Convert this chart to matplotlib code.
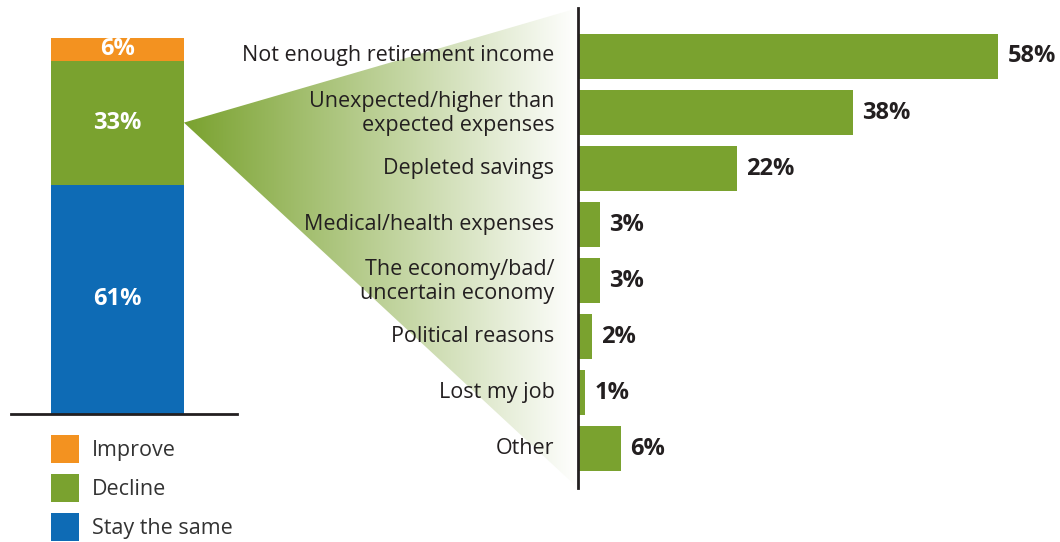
import numpy as np
import matplotlib
matplotlib.use("Agg")
import matplotlib.pyplot as plt
from matplotlib.patches import Polygon
from matplotlib.transforms import ScaledTranslation

plt.rcParams['font.family'] = ['Open Sans', 'DejaVu Sans']

# Outlook split (stacked bar, bottom to top)
outlook = ["Stay the same", "Decline", "Improve"]
outlook_vals = [61, 33, 6]
outlook_colors = ["#0E6BB5", "#7AA22F", "#F39220"]

# Reasons for decline
reasons = ["Not enough retirement income",
           "Unexpected/higher than\nexpected expenses",
           "Depleted savings",
           "Medical/health expenses",
           "The economy/bad/\nuncertain economy",
           "Political reasons",
           "Lost my job",
           "Other"]
reason_vals = [58, 38, 22, 3, 3, 2, 1, 6]

GREEN = "#7AA22F"
DARK = "#231F20"
W, H = 1060, 542
FS = 15.5
FS_B = 17
FS_PX = FS * 100 / 72

fig = plt.figure(figsize=(W / 100, H / 100), dpi=100)

def px_axes(x0, y0, x1, y1, **kw):
    # axes from pixel box (top-left origin)
    return fig.add_axes([x0 / W, (H - y1) / H, (x1 - x0) / W, (y1 - y0) / H], **kw)

# background layer for the connecting wedge
bg = fig.add_axes([0, 0, 1, 1], zorder=0)
bg.set_xlim(0, W)
bg.set_ylim(0, H)
bg.axis("off")

# --- stacked bar ---
axl = px_axes(11, 38, 237, 414, zorder=2)
axl.patch.set_alpha(0)
axl.set_xlim(0, 1)
axl.set_ylim(0, 100)
bx, bw = 0.471, 0.588
bottom = 0
handles = []
for name, v, c in zip(outlook, outlook_vals, outlook_colors):
    b = axl.bar(bx, v, bw, bottom=bottom, color=c, label=name)
    handles.append(b)
    axl.text(bx, bottom + v / 2, f"{v}%", ha="center", va="center",
             color="white", fontsize=FS_B, fontweight="bold")
    bottom += v
for s in ["top", "right", "left"]:
    axl.spines[s].set_visible(False)
axl.spines["bottom"].set_color(DARK)
axl.spines["bottom"].set_linewidth(2)
axl.set_xticks([])
axl.set_yticks([])

# legend in reversed order (Improve on top)
fig.legend(handles[::-1], outlook[::-1], loc="upper left",
           bbox_to_anchor=(51 / W, (H - 435) / H), frameon=False,
           fontsize=FS, handlelength=28 / FS_PX, handleheight=28 / FS_PX + 0.3,
           handletextpad=13 / FS_PX, labelspacing=0.53, borderpad=0,
           borderaxespad=0, labelcolor="#333333")

# --- reasons bar chart ---
axr = px_axes(578, 8, 1060, 488, zorder=2)
axr.patch.set_alpha(0)
y = np.arange(len(reasons))
axr.barh(y, reason_vals, height=0.8, color=GREEN)
axr.set_xlim(0, 66.5)
axr.set_ylim(7.705, -0.866)
for s in ["top", "right", "bottom"]:
    axr.spines[s].set_visible(False)
axr.spines["left"].set_color(DARK)
axr.spines["left"].set_linewidth(2)
axr.set_xticks([])
axr.set_yticks(y)
axr.set_yticklabels(reasons, fontsize=FS, color=DARK, linespacing=1.2,
                    ha="right")
axr.tick_params(axis="y", length=0, pad=17)
lift = ScaledTranslation(0, 3 / 100, fig.dpi_scale_trans)
for lab in axr.get_yticklabels():
    lab.set_transform(lab.get_transform() + lift)
for yi, v in zip(y, reason_vals):
    axr.annotate(f"{v}%", (v, yi), xytext=(9, 0), textcoords="offset pixels",
                 ha="left", va="center", fontsize=FS_B, fontweight="bold",
                 color=DARK)

# --- gradient wedge from Decline segment to reasons axis ---
fig.canvas.draw()
apex = axl.transData.transform((bx + bw / 2, outlook_vals[0] + outlook_vals[1] / 2))
top = axr.transAxes.transform((0, 1))
bot = axr.transAxes.transform((0, 0))
poly = Polygon([apex, top, bot], closed=True, facecolor="none", edgecolor="none")
bg.add_patch(poly)
n = 256
t = np.linspace(0, 1, n)
g = np.array(matplotlib.colors.to_rgb(GREEN))
grad = (1 - t)[:, None] * g + t[:, None] * np.ones(3)
im = bg.imshow(grad[None, :, :], extent=[apex[0], top[0], 0, H],
               aspect="auto", origin="lower", interpolation="bilinear")
im.set_clip_path(poly)
bg.set_xlim(0, W)
bg.set_ylim(0, H)

fig.savefig("out.png", dpi=100)
